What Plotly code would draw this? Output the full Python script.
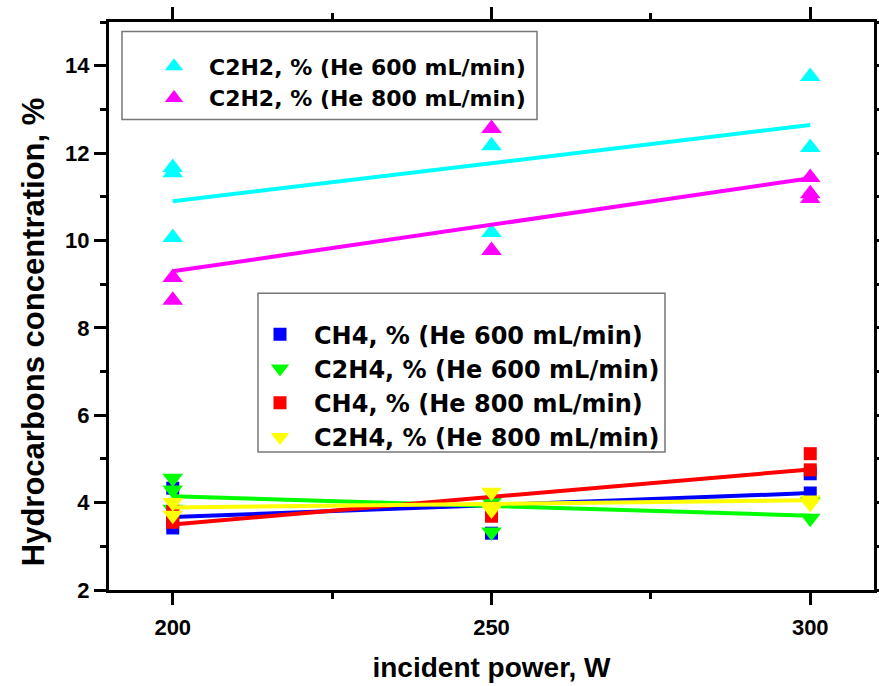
import numpy as np
import plotly.graph_objects as go

# Incident microwave power (W) and measured hydrocarbon concentrations (%)
c2h2_600_x = [200, 200, 200, 250, 250, 300, 300]
c2h2_600_y = [11.67, 11.55, 10.07, 12.17, 10.18, 13.75, 12.13]
c2h2_800_x = [200, 200, 250, 250, 300, 300, 300]
c2h2_800_y = [9.15, 8.63, 12.56, 9.77, 11.44, 11.07, 10.96]

ch4_600_x = [200, 200, 200, 250, 250, 300, 300]
ch4_600_y = [4.33, 3.42, 3.70, 3.30, 3.70, 4.66, 4.22]
c2h4_600_x = [200, 200, 200, 250, 250, 300, 300]
c2h4_600_y = [4.56, 4.29, 3.85, 3.33, 4.00, 3.64, 4.02]
ch4_800_x = [200, 200, 250, 250, 300, 300]
ch4_800_y = [3.80, 3.55, 3.87, 3.69, 5.12, 4.75]
c2h4_800_x = [200, 200, 250, 250, 300, 300]
c2h4_800_y = [4.00, 3.71, 4.24, 3.83, 4.06, 3.98]

x_ticks = [200, 250, 300]
y_ticks = [2, 4, 6, 8, 10, 12, 14]

series = [
    ("C2H2, % (He 600 mL/min)", c2h2_600_x, c2h2_600_y, "#00FFFF", "triangle-up", 18, "legend"),
    ("C2H2, % (He 800 mL/min)", c2h2_800_x, c2h2_800_y, "#FF00FF", "triangle-up", 18, "legend"),
    ("CH4, % (He 600 mL/min)", ch4_600_x, ch4_600_y, "#0000FF", "square", 13, "legend2"),
    ("C2H4, % (He 600 mL/min)", c2h4_600_x, c2h4_600_y, "#00FF00", "triangle-down", 18, "legend2"),
    ("CH4, % (He 800 mL/min)", ch4_800_x, ch4_800_y, "#FF0000", "square", 13, "legend2"),
    ("C2H4, % (He 800 mL/min)", c2h4_800_x, c2h4_800_y, "#FFFF00", "triangle-down", 18, "legend2"),
]

FONT = "Liberation Sans, Arial, sans-serif"
LEGEND_FONT = "DejaVu Sans, Liberation Sans, sans-serif"

fig = go.Figure()
for name, xs, ys, color, symbol, size, leg in series:
    fig.add_trace(go.Scatter(
        x=xs, y=ys, mode="markers", name=name, legend=leg,
        marker=dict(symbol=symbol, size=size, color=color, line=dict(width=0)),
    ))
    # least-squares linear fit over the measured power range
    slope, intercept = np.polyfit(xs, ys, 1)
    xf = np.array([min(xs), max(xs)], dtype=float)
    fig.add_trace(go.Scatter(
        x=xf, y=slope * xf + intercept, mode="lines", showlegend=False,
        line=dict(color=color, width=4), hoverinfo="skip",
    ))

# plot-area geometry in pixels, used to place the legend frames and y title
L, R, T, B = 109, 874, 21.5, 590
W, H = R - L, B - T
def px(x):
    return (x - L) / W
def py(y):
    return (B - y) / H

axis_common = dict(
    showline=True, linecolor="black", linewidth=3, mirror="ticks",
    ticks="outside", ticklen=12, tickwidth=3, tickcolor="black",
    showgrid=False, zeroline=False, automargin=False,
    tickfont=dict(family=FONT, size=22, color="black", weight="bold"),
)

fig.update_layout(
    width=879, height=686,
    margin=dict(l=L, r=879 - R, t=T, b=686 - B, autoexpand=False),
    paper_bgcolor="white", plot_bgcolor="white",
    xaxis=dict(
        range=[190, 310], tickvals=x_ticks, ticklabelstandoff=4,
        minor=dict(dtick=25, ticks="outside", ticklen=6, tickwidth=3, tickcolor="black", showgrid=False),
        title=dict(text="incident power, W", standoff=18,
                   font=dict(family=FONT, size=28, color="black", weight="bold")),
        **axis_common,
    ),
    yaxis=dict(
        range=[2, 15], tickvals=y_ticks,
        minor=dict(dtick=1, ticks="outside", ticklen=6, tickwidth=3, tickcolor="black", showgrid=False),
        **axis_common,
    ),
    annotations=[
        dict(text="Hydrocarbons concentration, %", textangle=-90,
             xref="paper", yref="paper", x=px(33), y=py(332),
             xanchor="center", yanchor="middle", showarrow=False,
             font=dict(family=FONT, size=31, color="black", weight="bold")),
    ],
    legend=dict(
        x=px(139), y=py(45), xanchor="left", yanchor="top",
        bgcolor="rgba(0,0,0,0)", borderwidth=0, itemwidth=60,
        font=dict(family=LEGEND_FONT, size=22, color="black", weight="bold"),
    ),
    legend2=dict(
        x=px(246), y=py(312), xanchor="left", yanchor="top",
        bgcolor="rgba(0,0,0,0)", borderwidth=0, itemwidth=58,
        font=dict(family=LEGEND_FONT, size=24, color="black", weight="bold"),
    ),
    shapes=[
        dict(type="rect", xref="paper", yref="paper",
             x0=px(122), x1=px(537), y0=py(119), y1=py(31),
             line=dict(color="#777777", width=1.5), fillcolor="rgba(0,0,0,0)", layer="below"),
        dict(type="rect", xref="paper", yref="paper",
             x0=px(258), x1=px(665), y0=py(452), y1=py(293),
             line=dict(color="#777777", width=1.5), fillcolor="rgba(0,0,0,0)", layer="below"),
    ],
)

fig.write_html("out.html")
